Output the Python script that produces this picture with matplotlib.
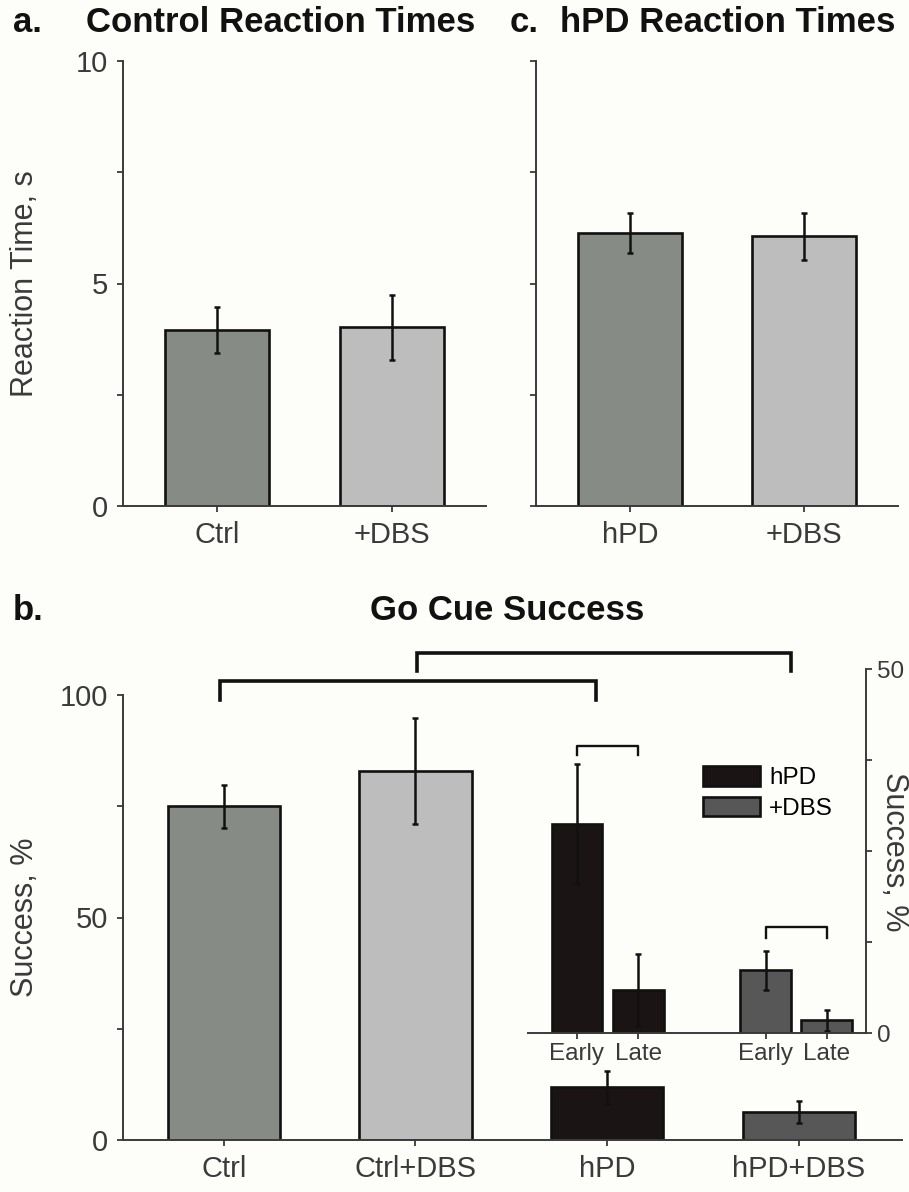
import matplotlib
matplotlib.use('Agg')
import matplotlib.pyplot as plt

plt.rcParams['font.family'] = ['Liberation Sans', 'DejaVu Sans']

# ── Data ──
rt_ctrl_labels = ['Ctrl', '+DBS']
rt_ctrl = [3.95, 4.02]
rt_ctrl_err = [0.52, 0.73]

rt_hpd_labels = ['hPD', '+DBS']
rt_hpd = [6.13, 6.06]
rt_hpd_err = [0.45, 0.53]

success_labels = ['Ctrl', 'Ctrl+DBS', 'hPD', 'hPD+DBS']
success = [75.0, 82.9, 11.8, 6.3]
success_err = [4.8, 11.9, 3.8, 2.5]

phase_labels = ['Early', 'Late', 'Early', 'Late']
phase_hpd = [28.7, 5.9]
phase_hpd_err = [8.3, 4.9]
phase_dbs = [8.6, 1.75]
phase_dbs_err = [2.7, 1.45]

# ── Style ──
c_ctrl = '#878b86'
c_light = '#bdbdbd'
c_hpd = '#1b1415'
c_dbs = '#575757'
c_axis = '#3a3a3a'
bg = '#fdfdfa'

W, H = 909, 1192
fig = plt.figure(figsize=(W / 100, H / 100), dpi=100, facecolor=bg)


def box(l, t, r, b):
    return [l / W, 1 - b / H, (r - l) / W, (b - t) / H]


def style(ax, sides=('left', 'bottom'), size=21):
    for s in ['left', 'right', 'top', 'bottom']:
        ax.spines[s].set_visible(s in sides)
        ax.spines[s].set_color(c_axis)
        ax.spines[s].set_linewidth(1.4)
    ax.tick_params(direction='out', length=4, width=1.3, color=c_axis,
                   labelcolor=c_axis, labelsize=size, pad=7)
    ax.set_facecolor('none')


bar_kw = dict(edgecolor='#111111', linewidth=1.9,
              error_kw=dict(elinewidth=1.8, capthick=1.8, ecolor='#111111'),
              capsize=2.5)

# ── Panel a: Control reaction times ──
ax_a = fig.add_axes(box(123, 61, 486, 506))
ax_a.bar([1, 2], rt_ctrl, width=0.594, yerr=rt_ctrl_err,
         color=[c_ctrl, c_light], **bar_kw)
style(ax_a)
ax_a.set_xlim(0.463, 2.537)
ax_a.set_ylim(0, 10)
ax_a.set_xticks([1, 2])
ax_a.set_xticklabels(rt_ctrl_labels)
ax_a.set_yticks([0, 2.5, 5, 7.5, 10])
ax_a.set_yticklabels(['0', '', '5', '', '10'])
ax_a.set_ylabel('Reaction Time, s', fontsize=22, color=c_axis, va='center')
ax_a.yaxis.set_label_coords(-0.27, 0.5)

# ── Panel c: hPD reaction times ──
ax_c = fig.add_axes(box(536, 61, 898, 506))
ax_c.bar([1, 2], rt_hpd, width=0.594, yerr=rt_hpd_err,
         color=[c_ctrl, c_light], **bar_kw)
style(ax_c)
ax_c.set_xlim(0.46, 2.54)
ax_c.set_ylim(0, 10)
ax_c.set_xticks([1, 2])
ax_c.set_xticklabels(rt_hpd_labels)
ax_c.set_yticks([0, 2.5, 5, 7.5, 10])
ax_c.set_yticklabels([])

# ── Panel b: Go cue success ──
ax_b = fig.add_axes(box(123, 695, 902, 1140))
ax_b.bar([1, 2, 3, 4], success, width=0.585, yerr=success_err,
         color=[c_ctrl, c_light, c_hpd, c_dbs], **bar_kw)
style(ax_b)
ax_b.set_xlim(0.473, 4.54)
ax_b.set_ylim(0, 100)
ax_b.set_xticks([1, 2, 3, 4])
ax_b.set_xticklabels(success_labels)
ax_b.set_yticks([0, 25, 50, 75, 100])
ax_b.set_yticklabels(['0', '', '50', '', '100'])
ax_b.set_ylabel('Success, %', fontsize=22, color=c_axis, va='center')
ax_b.yaxis.set_label_coords(-0.126, 0.5)

# significance brackets across groups
ax_b.plot([0.98, 0.98, 2.94, 2.94], [98.9, 103.1, 103.1, 98.9],
          color='#111111', lw=2.6, clip_on=False, solid_joinstyle='miter')
ax_b.plot([2.01, 2.01, 3.96, 3.96], [105.4, 109.4, 109.4, 105.4],
          color='#111111', lw=2.6, clip_on=False, solid_joinstyle='miter')

# ── Inset: early vs late success ──
ax_in = fig.add_axes(box(528, 669, 866, 1033))
pos_hpd = [1, 2]
pos_dbs = [4.08, 5.08]
b_hpd = ax_in.bar(pos_hpd, phase_hpd, width=0.83, yerr=phase_hpd_err,
                  color=c_hpd, label='hPD', **bar_kw)
b_dbs = ax_in.bar(pos_dbs, phase_dbs, width=0.83, yerr=phase_dbs_err,
                  color=c_dbs, label='+DBS', **bar_kw)
style(ax_in, sides=('right', 'bottom'), size=17.5)
ax_in.tick_params(axis='x', pad=3)
ax_in.yaxis.tick_right()
ax_in.set_xlim(0.2, 5.72)
ax_in.set_ylim(0, 50)
ax_in.set_xticks(pos_hpd + pos_dbs)
ax_in.set_xticklabels(phase_labels)
ax_in.set_yticks([0, 12.5, 25, 37.5, 50])
ax_in.set_yticklabels(['0', '', '', '', '50'])
ax_in.tick_params(axis='y', pad=4)

ax_in.plot([1, 1, 2, 2], [38.2, 39.4, 39.4, 38.2], color='#111111', lw=1.7,
           clip_on=False)
ax_in.plot([4.08, 4.08, 5.08, 5.08], [13.1, 14.5, 14.5, 13.1],
           color='#111111', lw=1.7, clip_on=False)

ax_in.legend(handles=[b_hpd, b_dbs], loc='upper left',
             bbox_to_anchor=(703 / W, 1 - 766 / H),
             bbox_transform=fig.transFigure, frameon=False, fontsize=17.5,
             borderpad=0, borderaxespad=0, handlelength=2.35,
             handleheight=0.87, handletextpad=0.37, labelspacing=0.3)

fig.text(894 / W, 1 - 852 / H, 'Success, %', rotation=270, ha='center',
         va='center', fontsize=22, color=c_axis)

# ── Panel titles ──
title_kw = dict(fontsize=25, fontweight='bold', color='#111111', va='center')
fig.text(13 / W, 1 - 22 / H, 'a.', ha='left', **title_kw)
fig.text(86 / W, 1 - 22 / H, 'Control Reaction Times', ha='left', **title_kw)
fig.text(510 / W, 1 - 22 / H, 'c.', ha='left', **title_kw)
fig.text(560 / W, 1 - 22 / H, 'hPD Reaction Times', ha='left', **title_kw)
fig.text(13 / W, 1 - 611 / H, 'b.', ha='left', **title_kw)
fig.text(507 / W, 1 - 611 / H, 'Go Cue Success', ha='center', **title_kw)

fig.savefig('out.png', dpi=100, facecolor=bg)
